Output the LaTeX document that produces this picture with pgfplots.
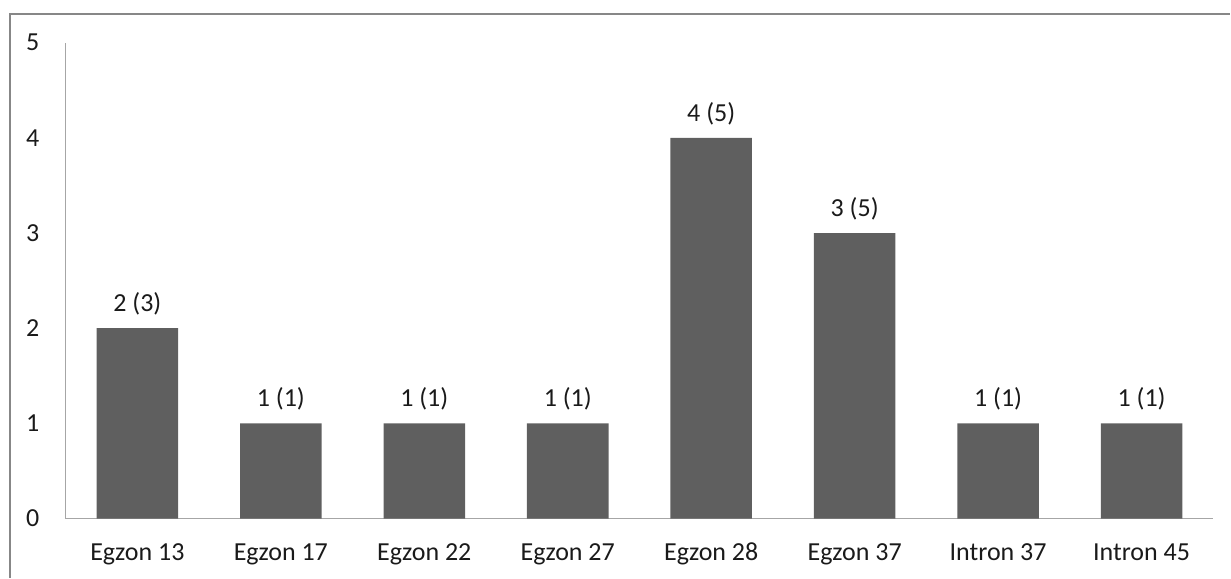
\documentclass[border=0pt]{standalone}
\usepackage{pgfplots}
\pgfplotsset{compat=1.18}
\usepackage{fontspec}
\setmainfont{Carlito}
\definecolor{barc}{HTML}{5F5F5F}
\definecolor{axc}{HTML}{A6A6A6}
\definecolor{framec}{HTML}{878787}
\definecolor{txtc}{HTML}{1A1A1A}
\begin{document}
\begin{tikzpicture}[x=1pt,y=1pt]
\path (0,0) rectangle (615.5,289);
\draw[framec, line width=1pt] (5.25,0) -- (5.25,282.15) -- (615.5,282.15);
\begin{axis}[
  at={(32.85pt,29.5pt)}, anchor=south west,
  scale only axis, width=574.3pt, height=238.15pt,
  xmin=-0.5, xmax=7.5, ymin=0, ymax=5,
  axis x line*=bottom, axis y line*=left,
  axis line style={draw=axc, line width=0.6pt},
  every outer x axis line/.append style={-},
  every outer y axis line/.append style={-},
  xtick={0,...,7},
  xticklabels={Egzon 13,Egzon 17,Egzon 22,Egzon 27,Egzon 28,Egzon 37,Intron 37,Intron 45},
  ytick={0,...,5},
  major tick length=0pt,
  tick style={draw=none},
  /pgf/number format/assume math mode=true,
  ticklabel style={font=\fontsize{13}{15}\selectfont, text=txtc},
  yticklabel style={inner sep=0pt, anchor=east, xshift=-13pt},
  xticklabel style={inner sep=0pt, anchor=base, yshift=-20.85pt},
  point meta=explicit symbolic,
  nodes near coords,
  nodes near coords style={font=\fontsize{13}{15}\selectfont, text=txtc, anchor=base, inner sep=0pt, yshift=8.3pt},
  clip=false,
]
\addplot[ybar, bar width=40.8pt, fill=barc, draw=none] coordinates {
  (0,2) [2 (3)]
  (1,1) [1 (1)]
  (2,1) [1 (1)]
  (3,1) [1 (1)]
  (4,4) [4 (5)]
  (5,3) [3 (5)]
  (6,1) [1 (1)]
  (7,1) [1 (1)]
};
\end{axis}
\end{tikzpicture}
\end{document}
